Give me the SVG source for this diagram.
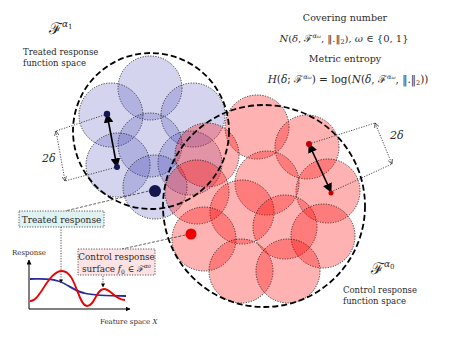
<svg xmlns="http://www.w3.org/2000/svg" width="450" height="338" viewBox="0 0 450 338" font-family="'DejaVu Serif', serif">
<style>
.t{font-family:'DejaVu Serif',serif;fill:#2a2a2a}
.bc{fill:#3a3ab0;fill-opacity:0.22;stroke:#111;stroke-width:0.8;stroke-dasharray:1.2 1.4}
.rc{fill:#ff0000;fill-opacity:0.3;stroke:#111;stroke-width:0.8;stroke-dasharray:1.2 1.4}
.big{fill:none;stroke:#000;stroke-width:1.8;stroke-dasharray:6 3}
.dot{fill:none;stroke:#222;stroke-width:0.8;stroke-dasharray:1.2 1.4}
.dash{fill:none;stroke:#222;stroke-width:0.7;stroke-dasharray:3 1.5}
.arr{fill:none;stroke:#000;stroke-width:1.6}
</style>
<defs>
<marker id="ah" viewBox="0 0 10 10" refX="9" refY="5" markerWidth="6" markerHeight="6" orient="auto-start-reverse"><path d="M0,0 L10,5 L0,10 z" fill="#000"/></marker>
<marker id="oh" viewBox="0 0 10 10" refX="9" refY="5" markerWidth="7" markerHeight="7" orient="auto-start-reverse"><path d="M1,1 L9,5 L1,9" fill="none" stroke="#222" stroke-width="1.2"/></marker>
<marker id="th" viewBox="0 0 10 10" refX="9" refY="5" markerWidth="5" markerHeight="5" orient="auto"><path d="M0,0 L10,5 L0,10 z" fill="#000"/></marker>
</defs>

<g id="treated-space">
<circle class="bc" cx="150" cy="88" r="32"/>
<circle class="bc" cx="111" cy="115" r="32"/>
<circle class="bc" cx="193" cy="115" r="32"/>
<circle class="bc" cx="150" cy="145" r="32"/>
<circle class="bc" cx="118" cy="165" r="32"/>
<circle class="bc" cx="190" cy="163" r="32"/>
<circle class="bc" cx="155" cy="187" r="32"/>
</g>

<g id="control-space">
<circle class="rc" cx="257" cy="127" r="32"/>
<circle class="rc" cx="307" cy="147" r="32"/>
<circle class="rc" cx="207" cy="155" r="32"/>
<circle class="rc" cx="328" cy="191" r="32"/>
<circle class="rc" cx="267" cy="183" r="32"/>
<circle class="rc" cx="197" cy="192" r="32"/>
<circle class="rc" cx="242" cy="212" r="32"/>
<circle class="rc" cx="285" cy="227" r="32"/>
<circle class="rc" cx="323" cy="236" r="32"/>
<circle class="rc" cx="204" cy="239" r="32"/>
<circle class="rc" cx="241" cy="271" r="32"/>
<circle class="rc" cx="288" cy="271" r="32"/>
</g>

<g id="boundaries">
<circle class="big" cx="151" cy="131" r="78"/>
<circle class="big" cx="264" cy="206" r="101"/>
</g>

<g id="connectors">
<line class="dot" x1="107" y1="114" x2="56" y2="131"/>
<line class="dot" x1="117" y1="167" x2="65" y2="181"/>
<line class="dot" x1="56" y1="131" x2="65" y2="181" marker-start="url(#oh)" marker-end="url(#oh)"/>
<line class="arr" x1="107" y1="114" x2="117" y2="167" marker-start="url(#ah)" marker-end="url(#ah)"/>
<line class="dot" x1="309" y1="144" x2="375" y2="123"/>
<line class="dot" x1="331" y1="192" x2="392" y2="164"/>
<line class="dot" x1="375" y1="123" x2="392" y2="164" marker-start="url(#oh)" marker-end="url(#oh)"/>
<line class="arr" x1="309" y1="144" x2="331" y2="192" marker-start="url(#ah)" marker-end="url(#ah)"/>
<line class="dash" x1="153" y1="190" x2="65" y2="211"/>
<line class="dash" x1="190" y1="234" x2="122" y2="249"/>
<line class="dot" x1="61" y1="227" x2="61" y2="283" stroke-width="1" marker-end="url(#th)"/>
<line class="dot" x1="103" y1="276" x2="103" y2="287" stroke-width="1" marker-end="url(#th)"/>
</g>

<g id="points">
<circle cx="107" cy="114" r="3.2" fill="#15154f"/>
<circle cx="117" cy="167" r="3" fill="#15154f"/>
<circle cx="155" cy="191" r="6" fill="#15154f"/>
<circle cx="309" cy="144" r="3" fill="#c00000"/>
<circle cx="331" cy="193" r="2.5" fill="#c00000"/>
<circle cx="191" cy="234" r="5.5" fill="#ee0000"/>
</g>

<g id="labels">
<text class="t" x="42" y="162" font-size="11" font-style="italic">2δ</text>
<text class="t" x="390" y="139" font-size="11" font-style="italic">2δ</text>
<text class="t" x="49" y="34" font-size="16">ℱ<tspan dy="-7" font-size="9" font-style="italic">α</tspan><tspan dy="2" font-size="7">1</tspan></text>
<text class="t" x="23" y="55" font-size="8.5">Treated response</text>
<text class="t" x="23" y="66" font-size="8.5">function space</text>
<text class="t" x="371" y="274" font-size="16">ℱ<tspan dy="-7" font-size="9" font-style="italic">α</tspan><tspan dy="2" font-size="7">0</tspan></text>
<text class="t" x="343" y="293" font-size="8.5">Control response</text>
<text class="t" x="343" y="304" font-size="8.5">function space</text>
<text class="t" x="345" y="21" font-size="9.5" text-anchor="middle">Covering number</text>
<text class="t" x="344" y="42" font-size="10" text-anchor="middle"><tspan font-style="italic">N</tspan>(<tspan font-style="italic">δ</tspan>, ℱ<tspan dy="-4" font-size="6.5" font-style="italic">α<tspan font-size="5">ω</tspan></tspan><tspan dy="4">, ‖.‖</tspan><tspan dy="2" font-size="6.5">2</tspan><tspan dy="-2">), </tspan><tspan font-style="italic">ω</tspan> ∈ {0, 1}</text>
<text class="t" x="345" y="62" font-size="9.5" text-anchor="middle">Metric entropy</text>
<text class="t" x="348" y="83" font-size="10.5" text-anchor="middle"><tspan font-style="italic">H</tspan>(<tspan font-style="italic">δ</tspan>; ℱ<tspan dy="-4" font-size="6.5" font-style="italic">α<tspan font-size="5">ω</tspan></tspan><tspan dy="4">) = log(</tspan><tspan font-style="italic">N</tspan>(<tspan font-style="italic">δ</tspan>, ℱ<tspan dy="-4" font-size="6.5" font-style="italic">α<tspan font-size="5">ω</tspan></tspan><tspan dy="4">, ‖.‖</tspan><tspan dy="2" font-size="6.5">2</tspan><tspan dy="-2">))</tspan></text>
</g>

<g id="treated-box">
<rect x="19" y="211" width="85" height="16" fill="#dff2f2" stroke="#333" stroke-width="0.8" stroke-dasharray="1.2 1.4"/>
<text class="t" x="61.5" y="222.5" font-size="9" text-anchor="middle">Treated response</text>
</g>

<g id="control-box">
<rect x="78" y="249" width="77" height="26" fill="#fde3e3" stroke="#333" stroke-width="0.8" stroke-dasharray="1.2 1.4"/>
<text class="t" x="116.5" y="260" font-size="8.8" text-anchor="middle">Control response</text>
<text class="t" x="116.5" y="272" font-size="8.8" text-anchor="middle">surface <tspan font-style="italic">f</tspan><tspan dy="2" font-size="6">0</tspan><tspan dy="-2"> ∈ ℱ</tspan><tspan dy="-4" font-size="6" font-style="italic">α<tspan font-size="4.5">0</tspan></tspan></text>
</g>

<g id="plot">
<line x1="29" y1="309" x2="29" y2="260" stroke="#000" stroke-width="1" marker-end="url(#th)"/>
<line x1="29" y1="309" x2="130" y2="309" stroke="#000" stroke-width="1" marker-end="url(#th)"/>
<path d="M30,279 C40,279 50,278 58,281 C68,284 74,291 84,293 C95,296 110,296 126,296" fill="none" stroke="#2a2a9a" stroke-width="1.8"/>
<path d="M30,301 C40,302 48,271 62,271 C76,271 78,306 87,306 C95,306 96,289 104,289 C111,289 115,300 125,300" fill="none" stroke="#ee0000" stroke-width="1.8"/>
<text class="t" x="12" y="255" font-size="7">Response</text>
<text class="t" x="100" y="324" font-size="7">Feature space <tspan font-style="italic">X</tspan></text>
</g>
</svg>
